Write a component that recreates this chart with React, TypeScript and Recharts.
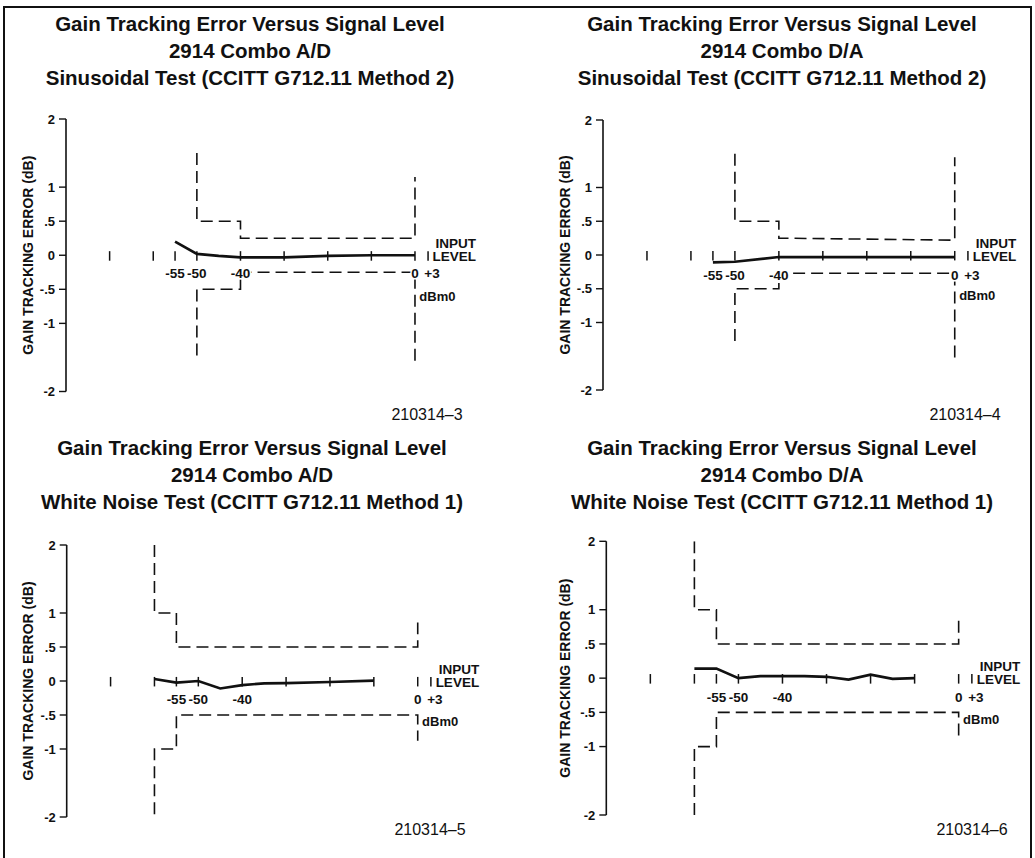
import React from 'react';
import { ComposedChart, Line, XAxis, YAxis, ReferenceLine, ReferenceDot } from 'recharts';

const FONT = '"Liberation Sans", Arial, Helvetica, sans-serif';
const INK = '#111';

type Pt = { x: number; y: number };

// ---- shared axis definitions ----
const X_DOMAIN: [number, number] = [-80, 10];
const X_TICK_MARKS = [-70, -60, -55, -50, -40, -30, -20, -10, 0, 3];
const X_TICK_LABELS = [
  { x: -55, text: '-55' },
  { x: -50, text: '-50' },
  { x: -40, text: '-40' },
  { x: 0, text: '0' },
  { x: 3, text: '+3' },
];
const Y_TICKS = [2, 1, 0.5, 0, -0.5, -1, -2];
const Y_TICK_TEXT: Record<string, string> = {
  '2': '2', '1': '1', '0.5': '.5', '0': '0', '-0.5': '-.5', '-1': '-1', '-2': '-2',
};

// ---- panel 1: A/D sinusoidal ----
const P1_TITLE = ['Gain Tracking Error Versus Signal Level', '2914 Combo A/D', 'Sinusoidal Test (CCITT G712.11 Method 2)'];
const P1_MEASURED: Pt[] = [
  { x: -55, y: 0.2 }, { x: -50, y: 0.02 }, { x: -45, y: -0.01 }, { x: -40, y: -0.03 },
  { x: -30, y: -0.03 }, { x: -20, y: -0.01 }, { x: -10, y: 0.0 }, { x: 0, y: 0.0 },
];
const P1_UPPER: Pt[] = [
  { x: -50, y: 1.5 }, { x: -50, y: 0.5 }, { x: -40, y: 0.5 }, { x: -40, y: 0.25 },
  { x: 0, y: 0.25 }, { x: 0, y: 1.15 },
];
const P1_LOWER: Pt[] = [
  { x: 0, y: -1.55 }, { x: 0, y: -0.25 }, { x: -40, y: -0.25 }, { x: -40, y: -0.5 },
  { x: -50, y: -0.5 }, { x: -50, y: -1.5 },
];

// ---- panel 2: D/A sinusoidal ----
const P2_TITLE = ['Gain Tracking Error Versus Signal Level', '2914 Combo D/A', 'Sinusoidal Test (CCITT G712.11 Method 2)'];
const P2_MEASURED: Pt[] = [
  { x: -55, y: -0.11 }, { x: -50, y: -0.1 }, { x: -40, y: -0.03 }, { x: -30, y: -0.03 },
  { x: -20, y: -0.03 }, { x: -10, y: -0.03 }, { x: 0, y: -0.03 },
];
const P2_UPPER: Pt[] = [
  { x: -50, y: 1.5 }, { x: -50, y: 0.5 }, { x: -40, y: 0.5 }, { x: -40, y: 0.25 },
  { x: 0, y: 0.22 }, { x: 0, y: 1.45 },
];
const P2_LOWER: Pt[] = [
  { x: 0, y: -1.52 }, { x: 0, y: -0.27 }, { x: -40, y: -0.27 }, { x: -40, y: -0.5 },
  { x: -50, y: -0.5 }, { x: -50, y: -1.35 },
];

// ---- panel 3: A/D white noise ----
const P3_TITLE = ['Gain Tracking Error Versus Signal Level', '2914 Combo A/D', 'White Noise Test (CCITT G712.11 Method 1)'];
const P3_MEASURED: Pt[] = [
  { x: -60, y: 0.03 }, { x: -55, y: -0.025 }, { x: -50, y: 0.0 }, { x: -45, y: -0.11 },
  { x: -40, y: -0.06 }, { x: -35, y: -0.035 }, { x: -30, y: -0.03 }, { x: -20, y: -0.015 },
  { x: -10, y: 0.005 },
];
const P3_UPPER: Pt[] = [
  { x: -60, y: 2 }, { x: -60, y: 1 }, { x: -55, y: 1 }, { x: -55, y: 0.5 },
  { x: 0, y: 0.5 }, { x: 0, y: 0.86 },
];
const P3_LOWER: Pt[] = [
  { x: -60, y: -1.96 }, { x: -60, y: -1 }, { x: -55, y: -1 }, { x: -55, y: -0.5 },
  { x: 0, y: -0.5 }, { x: 0, y: -0.88 },
];

// ---- panel 4: D/A white noise ----
const P4_TITLE = ['Gain Tracking Error Versus Signal Level', '2914 Combo D/A', 'White Noise Test (CCITT G712.11 Method 1)'];
const P4_MEASURED: Pt[] = [
  { x: -60, y: 0.14 }, { x: -55, y: 0.14 }, { x: -50, y: 0.0 }, { x: -45, y: 0.03 },
  { x: -40, y: 0.03 }, { x: -35, y: 0.03 }, { x: -30, y: 0.02 }, { x: -25, y: -0.02 },
  { x: -20, y: 0.05 }, { x: -15, y: -0.01 }, { x: -10, y: 0.0 },
];
const P4_UPPER: Pt[] = [
  { x: -60, y: 2 }, { x: -60, y: 1 }, { x: -55, y: 1 }, { x: -55, y: 0.5 },
  { x: 0, y: 0.5 }, { x: 0, y: 0.84 },
];
const P4_LOWER: Pt[] = [
  { x: -60, y: -2 }, { x: -60, y: -1 }, { x: -55, y: -1 }, { x: -55, y: -0.5 },
  { x: 0, y: -0.5 }, { x: 0, y: -0.88 },
];

const FOOTNOTES = ['210314–3', '210314–4', '210314–5', '210314–6'];

type PanelCfg = {
  left: number; top: number;
  margin: { top: number; right: number; bottom: number; left: number };
  yWidth: number;
  title: string[]; titleCenter: number; titleTop: number;
  foot: string; footX: number; footY: number;
  measured: Pt[]; upper: Pt[]; lower: Pt[];
  labelY: number;
};

const PANELS: PanelCfg[] = [
  {
    left: 0, top: 0, margin: { top: 119, right: 58.4, bottom: 33.5, left: 26 }, yWidth: 40,
    title: P1_TITLE, titleCenter: 250, titleTop: 10,
    foot: FOOTNOTES[0], footX: 427, footY: 415,
    measured: P1_MEASURED, upper: P1_UPPER, lower: P1_LOWER, labelY: -0.26,
  },
  {
    left: 517, top: 0, margin: { top: 120, right: 35.3, bottom: 35, left: 46.3 }, yWidth: 39.7,
    title: P2_TITLE, titleCenter: 265, titleTop: 10,
    foot: FOOTNOTES[1], footX: 448, footY: 415,
    measured: P2_MEASURED, upper: P2_UPPER, lower: P2_LOWER, labelY: -0.3,
  },
  {
    left: 0, top: 425, margin: { top: 120, right: 55.4, bottom: 33, left: 26.3 }, yWidth: 40.4,
    title: P3_TITLE, titleCenter: 252, titleTop: 9,
    foot: FOOTNOTES[2], footX: 430, footY: 405,
    measured: P3_MEASURED, upper: P3_UPPER, lower: P3_LOWER, labelY: -0.265,
  },
  {
    left: 517, top: 425, margin: { top: 116.3, right: 31.3, bottom: 35, left: 46.3 }, yWidth: 43,
    title: P4_TITLE, titleCenter: 265, titleTop: 9,
    foot: FOOTNOTES[3], footX: 455, footY: 405,
    measured: P4_MEASURED, upper: P4_UPPER, lower: P4_LOWER, labelY: -0.28,
  },
];

const TICK_UP = 0.06;
const TICK_DOWN = -0.08;

const halo = { stroke: '#fff', strokeWidth: 3, paintOrder: 'stroke' as const };

function Panel({ cfg }: { cfg: PanelCfg }) {
  return (
    <>
      <div
        style={{
          position: 'absolute', left: cfg.left + cfg.titleCenter - 260, top: cfg.top + cfg.titleTop,
          width: 520, textAlign: 'center', fontWeight: 700, fontSize: 20.5, lineHeight: '27px', color: INK,
        }}
      >
        {cfg.title.map((t) => (<div key={t}>{t}</div>))}
      </div>
      <div
        style={{
          position: 'absolute', left: cfg.left + cfg.footX - 60, top: cfg.top + cfg.footY - 10,
          width: 120, textAlign: 'center', fontSize: 16, lineHeight: '20px', color: INK,
        }}
      >
        {cfg.foot}
      </div>
      <div style={{ position: 'absolute', left: cfg.left, top: cfg.top }}>
        <ComposedChart width={517} height={425} margin={cfg.margin}>
          <XAxis type="number" dataKey="x" domain={X_DOMAIN} hide allowDataOverflow />
          <YAxis
            type="number"
            domain={[-2, 2]}
            ticks={Y_TICKS}
            interval={0}
            width={cfg.yWidth}
            allowDataOverflow
            tickFormatter={(v: number) => Y_TICK_TEXT[String(v)] ?? String(v)}
            tick={{ fill: INK, fontSize: 13, fontWeight: 700, fontFamily: FONT }}
            tickSize={7}
            tickMargin={4}
            axisLine={{ stroke: INK, strokeWidth: 1.6 }}
            tickLine={{ stroke: INK, strokeWidth: 1.4 }}
            label={{
              value: 'GAIN TRACKING ERROR (dB)', angle: -90, position: 'insideLeft', offset: 2,
              style: { textAnchor: 'middle' }, fontSize: 14, fontWeight: 700, fill: INK, fontFamily: FONT,
            }}
          />
          <Line data={cfg.upper} dataKey="y" type="linear" stroke={INK} strokeWidth={1.6}
            strokeDasharray="12 6" dot={false} activeDot={false} isAnimationActive={false} />
          <Line data={cfg.lower} dataKey="y" type="linear" stroke={INK} strokeWidth={1.6}
            strokeDasharray="12 6" dot={false} activeDot={false} isAnimationActive={false} />
          <Line data={cfg.measured} dataKey="y" type="linear" stroke={INK} strokeWidth={2.7}
            dot={false} activeDot={false} isAnimationActive={false} />
          {X_TICK_MARKS.map((v) => (
            <ReferenceLine key={'t' + v} segment={[{ x: v, y: TICK_UP }, { x: v, y: TICK_DOWN }]}
              stroke={INK} strokeWidth={1.5} ifOverflow="visible" />
          ))}
          {X_TICK_LABELS.map((l) => (
            <ReferenceDot key={'l' + l.x} x={l.x} y={cfg.labelY} r={0} fill="none" stroke="none" ifOverflow="visible"
              label={{
                value: l.text, position: 'center', fontSize: 13.5, fontWeight: 700, fill: INK, fontFamily: FONT,
                dx: l.text === '+3' ? 4 : 0, style: halo,
              }} />
          ))}
          <ReferenceDot x={14} y={0.18} r={0} fill="none" stroke="none" ifOverflow="visible"
            label={{ value: 'INPUT', position: 'left', offset: 0, fontSize: 13.5, fontWeight: 700, fill: INK, fontFamily: FONT }} />
          <ReferenceDot x={14} y={-0.02} r={0} fill="none" stroke="none" ifOverflow="visible"
            label={{ value: 'LEVEL', position: 'left', offset: 0, fontSize: 13.5, fontWeight: 700, fill: INK, fontFamily: FONT }} />
          <ReferenceDot x={1} y={-0.6} r={0} fill="none" stroke="none" ifOverflow="visible"
            label={{ value: 'dBm0', position: 'right', offset: 0, fontSize: 13, fontWeight: 700, fill: INK, fontFamily: FONT }} />
        </ComposedChart>
      </div>
    </>
  );
}

export default function App() {
  return (
    <div style={{ position: 'absolute', left: 0, top: 0, width: 1035, height: 858, background: '#fff', fontFamily: FONT, overflow: 'hidden' }}>
      <div style={{
        position: 'absolute', left: 3, top: 6, width: 1025, height: 860,
        borderLeft: `2px solid ${INK}`, borderTop: `2px solid ${INK}`, borderRight: `2px solid ${INK}`,
      }} />
      {PANELS.map((p, i) => (<Panel key={i} cfg={p} />))}
    </div>
  );
}
